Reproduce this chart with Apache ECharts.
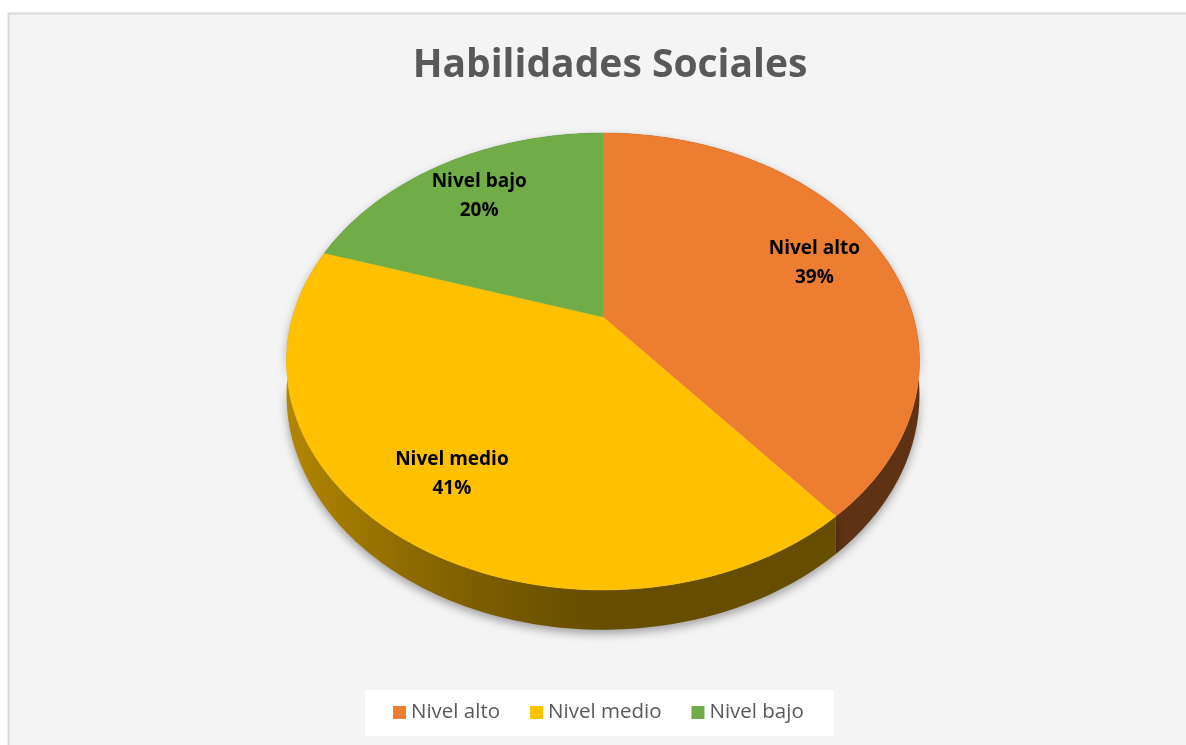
<!DOCTYPE html>
<html>
<head>
<meta charset="utf-8">
<script src="https://cdn.jsdelivr.net/npm/echarts@6/dist/echarts.min.js"></script>
<style>
  html, body { margin: 0; padding: 0; background: #fff; }
  #main { width: 1186px; height: 745px; }
</style>
</head>
<body>
<div id="main"></div>
<script>
// datos del gráfico
var categories = ['Nivel alto', 'Nivel medio', 'Nivel bajo'];
var values = [39, 41, 20];
var colors = ['#ED7D31', '#FFC000', '#70AD47'];

var total = values.reduce(function (a, b) { return a + b; }, 0);

// proyección en perspectiva del disco (pastel 3D)
var CX = 603, CY = 317, A = 310.4, B = 219.8, K = 0.1948, DEPTH = 32;

function project(theta, r) {
    var u = r * Math.sin(theta), v = -r * Math.cos(theta);
    var w = 1 - K * v;
    return [CX + A * u / w, CY + B * v / w, w];
}

function shade(hex, f) {
    var n = parseInt(hex.slice(1), 16);
    var r = Math.round(((n >> 16) & 255) * f);
    var g = Math.round(((n >> 8) & 255) * f);
    var b = Math.round((n & 255) * f);
    return 'rgb(' + r + ',' + g + ',' + b + ')';
}

function sideGradient(hex) {
    var stops = [];
    for (var s = 0; s <= 10; s++) {
        var t = s / 10, u = 2 * t - 1;
        var f = 0.4 + 0.3 * Math.pow(Math.max(0, -u), 1.3);
        stops.push({ offset: t, color: shade(hex, f) });
    }
    return new echarts.graphic.LinearGradient(CX - A * 1.02, 0, CX + A * 1.02, 0, stops, true);
}

function makeRender(i) {
    return function (params, api) {
        var val = api.value(0);
        var before = 0;
        for (var j = 0; j < i; j++) before += values[j];
        var a0 = before / total * Math.PI * 2;
        var a1 = (before + val) / total * Math.PI * 2;
        var steps = Math.max(2, Math.ceil((a1 - a0) / (Math.PI / 180)));
        var rimTop = [], rimBottom = [];
        for (var s = 0; s <= steps; s++) {
            var th = a0 + (a1 - a0) * s / steps;
            var p = project(th, 1);
            rimTop.push([p[0], p[1]]);
            rimBottom.push([p[0], p[1] + DEPTH / p[2]]);
        }
        var topPts = [[CX, CY]].concat(rimTop);
        var sidePts = rimTop.concat(rimBottom.slice().reverse());
        var mid = (a0 + a1) / 2;
        var lp = project(mid, 0.76);
        return {
            type: 'group',
            children: [
                {
                    type: 'polygon', z2: 1,
                    shape: { points: sidePts },
                    style: {
                        fill: sideGradient(colors[i]),
                        shadowBlur: 10, shadowColor: 'rgba(0,0,0,0.35)', shadowOffsetY: 4
                    }
                },
                {
                    type: 'polygon', z2: 5,
                    shape: { points: topPts },
                    style: { fill: colors[i], stroke: colors[i], lineWidth: 0.5 }
                },
                {
                    type: 'text', z2: 10,
                    x: lp[0], y: lp[1],
                    style: {
                        text: categories[i] + '\n' + Math.round(val / total * 100) + '%',
                        fill: '#000',
                        font: 'bold 19px "Open Sans"',
                        lineHeight: 29,
                        align: 'center',
                        verticalAlign: 'middle'
                    }
                }
            ]
        };
    };
}

var series = categories.map(function (name, i) {
    return {
        name: name,
        type: 'custom',
        coordinateSystem: 'none',
        itemStyle: { color: colors[i] },
        renderItem: makeRender(i),
        data: [values[i]]
    };
});

var myChart = echarts.init(document.getElementById('main'));
var option = {
    animation: false,
    backgroundColor: '#ffffff',
    color: colors,
    graphic: [{
        type: 'rect', z: -10,
        shape: { x: 8.5, y: 13.5, width: 1200, height: 760 },
        style: { fill: '#f4f4f4', stroke: '#d9d9d9', lineWidth: 2 }
    }],
    title: {
        text: 'Habilidades Sociales',
        left: 605, top: 41,
        textAlign: 'center',
        textStyle: { fontFamily: 'Open Sans', fontWeight: 'bold', fontSize: 39, color: '#595959' }
    },
    legend: {
        data: categories,
        left: 365, top: 690,
        icon: 'rect',
        itemWidth: 13, itemHeight: 13, itemGap: 30,
        backgroundColor: '#ffffff',
        padding: [12, 30, 13, 28],
        textStyle: { fontFamily: 'Open Sans', fontSize: 20.5, color: '#595959' }
    },
    series: series
};
myChart.setOption(option);
</script>
</body>
</html>
